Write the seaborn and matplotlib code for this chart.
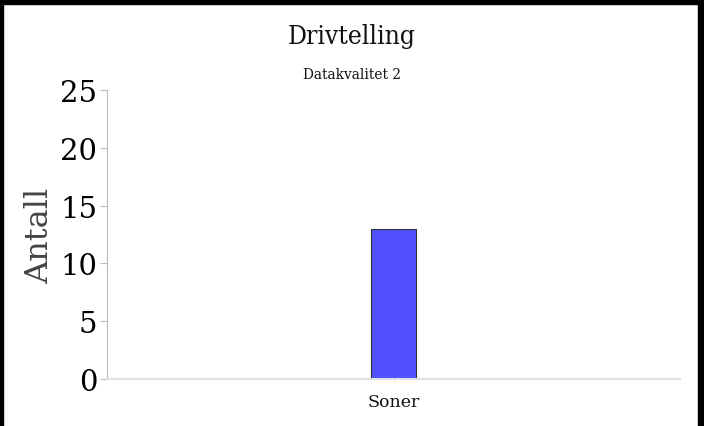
import pandas as pd
import seaborn as sns
import matplotlib.pyplot as plt

categories = ['Soner']
counts = [13]
yticks = [0, 5, 10, 15, 20, 25]

df = pd.DataFrame({'Kategori': categories, 'Antall': counts})

sns.set_style("white")
plt.rcParams['font.family'] = ['DejaVu Serif']

fig = plt.figure(figsize=(7.04, 4.27), dpi=100)
ax = fig.add_axes([0.152, 0.110, 0.814, 0.677])

sns.barplot(x='Kategori', y='Antall', data=df, color='#5050ff', saturation=1,
            width=0.08, edgecolor='#333333', linewidth=0.8, ax=ax)

ax.set_ylim(0, 25)
ax.set_xlim(-0.5, 0.5)
ax.set_yticks(yticks)
ax.tick_params(axis='y', left=True, labelsize=21, length=5, width=0.8,
               color='#bbbbbb', labelcolor='black', pad=2)
ax.tick_params(axis='x', bottom=True, labelsize=12.5, length=2, width=0.8,
               color='#dddddd', labelcolor='#111111', pad=8)
ax.set_xlabel('')
ax.set_ylabel('Antall', fontsize=23, color='#444444', labelpad=4)

sns.despine(ax=ax)
ax.spines['left'].set_color('#bbbbbb')
ax.spines['left'].set_linewidth(0.8)
ax.spines['bottom'].set_color('#e0e0e0')
ax.spines['bottom'].set_linewidth(1.5)

fig.text(0.5, 0.915, 'Drivtelling', ha='center', va='center', fontsize=19,
         fontstretch='condensed', color='#111111')
fig.text(0.5, 0.825, 'Datakvalitet 2', ha='center', va='center', fontsize=11,
         fontstretch='condensed', color='#111111')

# frame on top, left and right only
W, H = 704, 427
for x, y, w, h in [(0, H - 5, W, 5), (0, 0, 3, H), (W - 6, 0, 6, H)]:
    fig.add_artist(plt.Rectangle((x / W, y / H), w / W, h / H, color='black',
                                 transform=fig.transFigure, zorder=10))

fig.savefig('out.png', dpi=100)
